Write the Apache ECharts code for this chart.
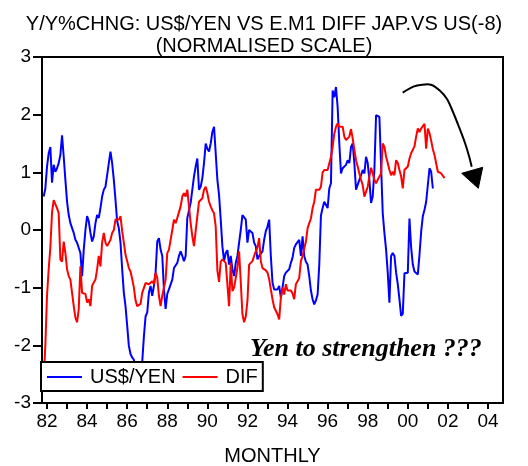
<!DOCTYPE html>
<html>
<head>
<meta charset="utf-8">
<script src="https://cdn.jsdelivr.net/npm/echarts@6/dist/echarts.min.js"></script>
<style>
html,body{margin:0;padding:0;background:#fff;}
#chart{width:528px;height:466px;}
</style>
</head>
<body>
<div id="chart"></div>
<script>
// Monthly observations, first one = November 1981
const START_YEAR = 1981;
const START_MONTH = 11;

const usdYen = [
0.58, 0.72, 1.10, 1.33, 1.44, 0.82, 1.13, 1.01, 1.07, 1.16,
1.30, 1.64, 1.27, 0.87, 0.49, 0.26, 0.12, 0.10, -0.05, -0.17,
-0.22, -0.25, -0.40, -0.80, -0.34, 0.00, 0.24, 0.15, -0.05, -0.20,
-0.11, 0.12, 0.26, 0.21, 0.38, 0.58, 0.70, 0.75, 0.95, 1.16,
1.36, 1.16, 0.87, 0.52, 0.15, 0.03, -0.22, -0.68, -1.09, -1.32,
-1.66, -2.01, -2.15, -2.21, -2.25, -2.50, -2.60, -2.55, -2.45, -2.29,
-1.85, -1.50, -1.43, -1.09, -0.97, -1.14, -0.97, -0.74, -0.20, -0.14,
-0.34, -0.45, -1.03, -1.37, -1.11, -1.03, -1.03, -0.86, -0.66, -0.63,
-0.57, -0.45, -0.37, -0.45, -0.54, -0.45, 0.21, 0.18, 0.47, 0.70,
0.93, 1.10, 1.24, 0.70, 0.75, 0.90, 1.16, 1.50, 1.41, 1.36,
1.50, 1.70, 1.79, 1.33, 0.87, 0.61, 0.18, -0.28, -0.54, -0.40,
-0.35, -0.60, -0.45, -0.68, -0.80, -0.57, -0.45, -0.22, 0.00, 0.26,
0.29, 0.18, -0.22, 0.00, -0.02, -0.05, -0.22, -0.28, -0.51, -0.45,
-0.48, -0.37, -0.17, -0.02, 0.06, 0.18, -0.45, -0.91, -1.03, -1.03,
-1.03, -0.97, -1.17, -1.00, -0.80, -0.74, -0.71, -0.68, -0.57, -0.48,
-0.31, -0.25, -0.22, -0.17, -0.45, -0.11, -0.45, -0.55, -0.60, -0.80,
-1.05, -1.20, -1.29, -1.22, -1.12, -0.60, 0.25, 0.38, 0.49, 0.52,
0.38, 0.72, 0.81, 2.42, 2.30, 2.48, 2.13, 1.50, 0.98, 1.07,
1.07, 1.13, 1.21, 1.16, 1.44, 1.50, 1.16, 0.70, 0.67, 0.87,
0.95, 1.04, 0.98, 1.27, 1.16, 0.87, 0.47, 0.58, 1.04, 1.99,
1.99, 1.96, 1.99, 0.29, -0.05, -0.34, -0.74, -1.26, -0.45, -0.40,
-0.45, -0.74, -0.94, -1.20, -1.49, -1.45, -0.75, -0.78, -0.74, 0.20,
-0.30, -0.60, -0.72, -0.74, -0.77, -0.43, -0.03, 0.24, 0.35, 0.49,
0.78, 1.07, 1.01, 0.72
];

const dif = [
-2.60, -2.00, -1.14, -0.68, -0.30, 0.30, 0.52, 0.55, 0.38, 0.29,
-0.51, -0.55, -0.20, -0.40, -0.68, -0.80, -0.86, -1.09, -1.32, -1.52,
-1.60, -1.37, -0.63, -1.09, -1.09, -1.11, -1.26, -1.20, -1.32, -0.97,
-0.91, -0.86, -0.68, -0.45, -0.63, -0.22, -0.05, -0.22, -0.28, -0.28,
-0.17, -0.05, 0.00, 0.18, 0.21, 0.18, 0.24, -0.02, -0.22, -0.43,
-0.54, -0.66, -0.72, -0.85, -1.00, -1.22, -1.32, -1.35, -1.28, -1.09,
-1.12, -0.92, -0.94, -0.94, -0.94, -0.89, -0.94, -0.74, -0.83, -1.14,
-1.32, -1.14, -1.00, -0.86, -0.40, -0.34, -0.17, 0.00, 0.18, 0.12,
0.21, 0.24, 0.41, 0.58, 0.64, 0.58, 0.70, 0.41, 0.12, -0.11,
-0.28, -0.31, 0.24, 0.49, 0.51, 0.55, 0.70, 0.75, 0.64, 0.49,
0.41, 0.34, 0.29, 0.06, -0.70, -0.90, -0.55, -0.51, -0.51, -0.57,
-0.55, -1.32, -0.57, -1.06, -1.00, -0.83, -0.65, -0.37, -0.90, -1.46,
-1.60, -1.50, -1.23, -0.60, -0.57, -0.54, -0.45, -0.37, -0.30, -0.14,
-0.54, -0.66, -0.66, -0.70, -0.74, -0.85, -1.03, -1.20, -1.34, -1.40,
-1.46, -1.55, -1.17, -1.00, -1.12, -0.94, -1.05, -1.08, -1.05, -1.10,
-1.20, -0.94, -0.89, -0.83, -0.54, -0.45, -0.43, -0.20, 0.03, 0.12,
0.20, 0.38, 0.49, 0.70, 0.72, 0.70, 0.75, 1.00, 1.04, 1.07,
1.04, 1.01, 1.27, 1.44, 1.67, 1.79, 1.85, 1.79, 1.79, 1.79,
1.62, 1.56, 1.56, 1.62, 1.75, 1.59, 1.39, 1.21, 1.10, 0.98,
0.87, 0.78, 0.58, 0.55, 0.75, 0.93, 1.08, 0.98, 0.87, 0.81,
0.87, 0.90, 0.98, 1.50, 1.44, 1.27, 1.16, 1.04, 0.95, 1.01,
0.95, 1.21, 1.16, 1.04, 0.93, 0.72, 1.04, 1.07, 1.10, 1.24,
1.33, 1.36, 1.45, 1.62, 1.76, 1.70, 1.76, 1.76, 1.84, 1.41,
1.76, 1.68, 1.55, 1.40, 1.30, 1.27, 1.01, 1.00, 0.98, 1.00,
0.90
];

const tickYears = [1982,1983,1984,1985,1986,1987,1988,1989,1990,1991,1992,1993,1994,1995,1996,1997,1998,1999,2000,2001,2002,2003,2004];
const labelYears = [1982,1984,1986,1988,1990,1992,1994,1996,1998,2000,2002,2004];

const seriesNames = ['US$/YEN', 'DIF'];
const titleLines = ['Y/Y%CHNG: US$/YEN VS E.M1 DIFF JAP.VS US(-8)', '(NORMALISED SCALE)'];
const xName = 'MONTHLY';
const note = 'Yen to strengthen ???';

function monthX(i) { return START_YEAR + (START_MONTH - 1 + i) / 12; }
const toPairs = arr => arr.map((v, i) => [monthX(i), v]);

const FONT = '"Liberation Sans", Arial, sans-serif';
const chart = echarts.init(document.getElementById('chart'), null, {renderer: 'canvas'});

chart.setOption({
  animation: false,
  backgroundColor: '#fff',
  title: {
    text: titleLines.join('\n'),
    left: 'center',
    top: 8,
    textStyle: {fontFamily: FONT, fontSize: 20, fontWeight: 'normal', color: '#000', lineHeight: 22}
  },
  grid: {left: 42, right: 25, top: 57, bottom: 63, show: true, borderColor: '#000', borderWidth: 2,
    backgroundColor: 'transparent', containLabel: false, outerBoundsMode: 'none'},
  legend: {
    data: seriesNames,
    left: 41, top: 362,
    orient: 'horizontal',
    icon: 'rect',
    padding: [5, 5, 4, 6],
    itemWidth: 35, itemHeight: 2, itemGap: 7,
    borderColor: '#000', borderWidth: 2, borderRadius: 0,
    backgroundColor: '#fff',
    textStyle: {fontFamily: FONT, fontSize: 20, color: '#000', padding: [0, 0, 0, 3]},
    z: 10
  },
  xAxis: {
    type: 'value',
    min: 1981.75, max: 2004.75,
    name: xName, nameLocation: 'middle', nameGap: 43,
    nameTextStyle: {fontFamily: FONT, fontSize: 20, color: '#000'},
    axisLine: {show: true, onZero: false, lineStyle: {color: '#000', width: 2}},
    axisTick: {show: true, inside: false, length: 6, customValues: tickYears, lineStyle: {color: '#000', width: 2}},
    axisLabel: {customValues: labelYears, margin: 9, fontFamily: FONT, fontSize: 19, color: '#000',
      formatter: v => String(Math.round(v) % 100).padStart(2, '0')},
    splitLine: {show: false}
  },
  yAxis: {
    type: 'value',
    min: -3, max: 3, interval: 1,
    axisLine: {show: true, onZero: false, lineStyle: {color: '#000', width: 2}},
    axisTick: {show: true, inside: false, length: 9, lineStyle: {color: '#000', width: 2}},
    axisLabel: {margin: 11, fontFamily: FONT, fontSize: 19, color: '#000'},
    splitLine: {show: false}
  },
  series: [
    {name: seriesNames[0], type: 'line', data: toPairs(usdYen), showSymbol: false, symbol: 'none',
      lineStyle: {color: '#0000ff', width: 2}, itemStyle: {color: '#0000ff'}, z: 3},
    {name: seriesNames[1], type: 'line', data: toPairs(dif), showSymbol: false, symbol: 'none',
      lineStyle: {color: '#ff0000', width: 2}, itemStyle: {color: '#ff0000'}, z: 4}
  ],
  graphic: [
    {type: 'text', left: 250, top: 336, z: 20,
      style: {text: note, fontFamily: '"Liberation Serif", "Times New Roman", serif', fontSize: 26,
        fontWeight: 'bold', fontStyle: 'italic', fill: '#000'}},
    {type: 'polyline', z: 20,
      shape: {points: [[402.7,92.7],[413.3,86.7],[422,84.7],[431,84.7],[440,90.7],[447,99],[453,112],[459,127],[465,143],[469,156],[471.7,166.7]], smooth: 0.3},
      style: {stroke: '#000', lineWidth: 2, fill: null}},
    {type: 'polygon', z: 20,
      shape: {points: [[461.7,173.3],[482.7,167.3],[478.3,188.3]]},
      style: {fill: '#000', stroke: '#000', lineWidth: 1}}
  ]
});
</script>
</body>
</html>
